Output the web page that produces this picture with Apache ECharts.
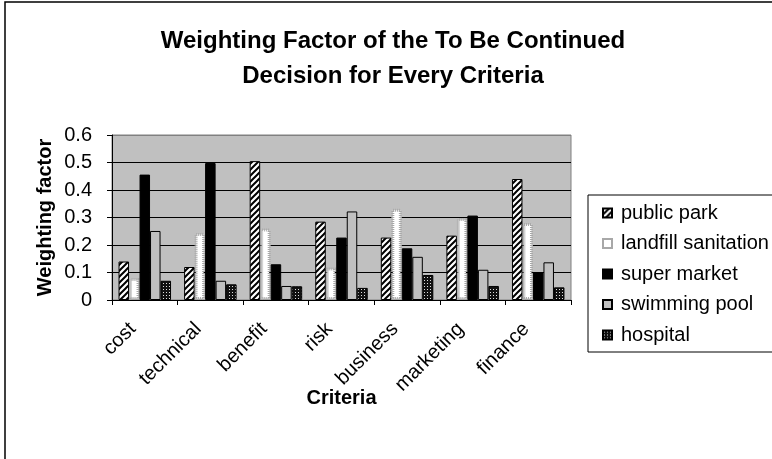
<!DOCTYPE html>
<html>
<head>
<meta charset="utf-8">
<script src="https://cdn.jsdelivr.net/npm/echarts@6/dist/echarts.min.js"></script>
<style>
  html, body { margin: 0; padding: 0; background: #fff; }
  #chart { width: 772px; height: 459px; }
</style>
</head>
<body>
<div id="chart"></div>
<script>
// data
const criteria = ['cost', 'technical', 'benefit', 'risk', 'business', 'marketing', 'finance'];
const publicPark = [0.14, 0.12, 0.505, 0.285, 0.227, 0.234, 0.44];
const landfill = [0.08, 0.244, 0.26, 0.118, 0.332, 0.298, 0.28];
const superMarket = [0.456, 0.498, 0.13, 0.227, 0.188, 0.307, 0.10];
const swimmingPool = [0.251, 0.07, 0.051, 0.322, 0.157, 0.11, 0.137];
const hospital = [0.07, 0.057, 0.05, 0.044, 0.091, 0.051, 0.046];
const yTicks = [0, 0.1, 0.2, 0.3, 0.4, 0.5, 0.6];

function makePattern(size, draw) {
  const c = document.createElement('canvas');
  c.width = size; c.height = size;
  const ctx = c.getContext('2d');
  draw(ctx, size);
  return { image: c, repeat: 'repeat' };
}

// diagonal hatch for public park
const hatch = makePattern(6, (ctx, s) => {
  ctx.fillStyle = '#fff';
  ctx.fillRect(0, 0, s, s);
  ctx.strokeStyle = '#000';
  ctx.lineWidth = 2;
  ctx.beginPath();
  ctx.moveTo(-1, s + 1); ctx.lineTo(s + 1, -1);
  ctx.moveTo(-1, 1); ctx.lineTo(1, -1);
  ctx.moveTo(s - 1, s + 1); ctx.lineTo(s + 1, s - 1);
  ctx.stroke();
});

// dark checker for hospital
const checker = makePattern(3, (ctx, s) => {
  ctx.fillStyle = '#111';
  ctx.fillRect(0, 0, s, s);
  ctx.fillStyle = '#ddd';
  ctx.fillRect(1, 1, 1, 1);
});

const chart = echarts.init(document.getElementById('chart'));

const barBase = { type: 'bar', barWidth: 10.5, barGap: '0%', barCategoryGap: '20%' };

const option = {
  animation: false,
  textStyle: { fontFamily: 'Liberation Sans, Arial, sans-serif' },
  title: {
    text: 'Weighting Factor of the To Be Continued\nDecision for Every Criteria',
    left: 388,
    top: 19,
    textAlign: 'center',
    textStyle: { fontSize: 24, fontWeight: 'bold', color: '#000', lineHeight: 35 }
  },
  grid: {
    left: 112, top: 135, width: 459, height: 165,
    show: true, backgroundColor: '#c0c0c0', borderColor: '#808080', borderWidth: 1
  },
  legend: {
    orient: 'vertical',
    left: 597,
    top: 198,
    itemWidth: 9,
    itemHeight: 9,
    itemGap: 10.5,
    icon: 'rect',
    textStyle: { fontSize: 20, color: '#000', lineHeight: 20, padding: [0, 0, 0, 4] },
    data: ['public park', 'landfill sanitation', 'super market', 'swimming pool', 'hospital']
  },
  xAxis: {
    type: 'category',
    data: criteria,
    name: 'Criteria',
    nameLocation: 'middle',
    nameGap: 88,
    nameMoveOverlap: false,
    nameTextStyle: { fontSize: 20, fontWeight: 'bold', color: '#000' },
    axisLine: { lineStyle: { color: '#000', width: 1 } },
    axisTick: { show: true, length: 5, lineStyle: { color: '#000' } },
    axisLabel: { rotate: 45, fontSize: 20, color: '#000', margin: 14, padding: [0, 17, 0, 0] }
  },
  yAxis: {
    type: 'value',
    min: 0, max: 0.6, interval: 0.1,
    name: 'Weighting factor',
    nameLocation: 'middle',
    nameGap: 57,
    nameMoveOverlap: false,
    nameTextStyle: { fontSize: 20, fontWeight: 'bold', color: '#000' },
    axisLine: { show: true, lineStyle: { color: '#000' } },
    axisTick: { show: true, length: 5, lineStyle: { color: '#000' } },
    axisLabel: {
      fontSize: 20, color: '#000', margin: 20,
      formatter: v => (yTicks.indexOf(Math.round(v * 10) / 10) >= 0 ? (v === 0 ? '0' : v.toFixed(1)) : '')
    },
    splitLine: { show: true, lineStyle: { color: ['#000', '#000', '#000', '#000', '#000', '#000', '#808080'], width: 1 } }
  },
  series: [
    Object.assign({}, barBase, {
      name: 'public park', data: publicPark,
      itemStyle: { color: hatch, borderColor: '#000', borderWidth: 1 }
    }),
    Object.assign({}, barBase, {
      name: 'landfill sanitation', data: landfill,
      itemStyle: { color: '#fff', borderColor: '#a8a8a8', borderWidth: 3, borderType: [1, 1] }
    }),
    Object.assign({}, barBase, {
      name: 'super market', data: superMarket,
      itemStyle: { color: '#000', borderColor: '#000', borderWidth: 1 }
    }),
    Object.assign({}, barBase, {
      name: 'swimming pool', data: swimmingPool,
      itemStyle: { color: '#c0c0c0', borderColor: '#000', borderWidth: 1 }
    }),
    Object.assign({}, barBase, {
      name: 'hospital', data: hospital,
      itemStyle: { color: checker, borderColor: '#000', borderWidth: 1 }
    })
  ],
  graphic: [
    {
      type: 'rect', silent: true, z: -1,
      shape: { x: 5, y: 2, width: 900, height: 600 },
      style: { fill: 'none', stroke: '#000', lineWidth: 1.5 }
    },
    {
      type: 'rect', silent: true, z: -1,
      shape: { x: 588, y: 195, width: 300, height: 157 },
      style: { fill: '#fff', stroke: '#000', lineWidth: 1 }
    }
  ]
};

chart.setOption(option);
</script>
</body>
</html>
